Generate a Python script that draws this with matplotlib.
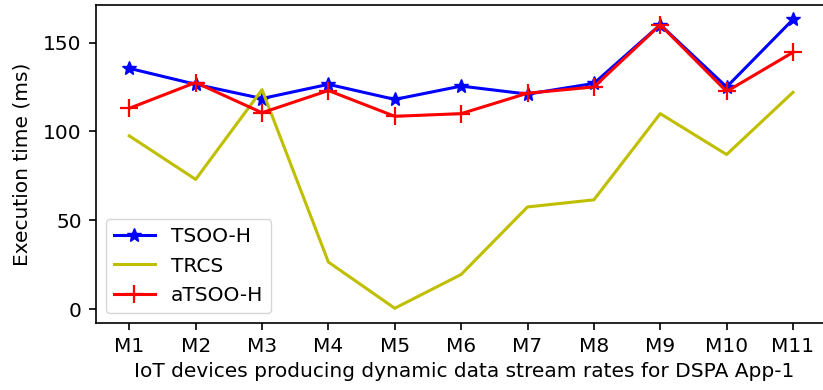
import matplotlib
matplotlib.use("Agg")
import matplotlib.pyplot as plt

# Devices and measured execution times (ms)
devices = ["M1", "M2", "M3", "M4", "M5", "M6", "M7", "M8", "M9", "M10", "M11"]
tsoo_h = [135.5, 126.5, 118.5, 126.5, 118, 125.5, 121, 127, 160, 125, 163]
trcs = [97.5, 73, 123.5, 26.5, 0.5, 19.5, 57.5, 61.5, 110, 87, 122]
atsoo_h = [113, 127.5, 110.5, 123, 108.5, 110, 121.5, 125, 160, 122.5, 144.5]
yticks = [0, 50, 100, 150]

plt.rcParams["font.family"] = ["DejaVu Sans"]
plt.rcParams["font.size"] = 14.5
plt.rcParams["axes.linewidth"] = 1.2
for a in ("xtick", "ytick"):
    plt.rcParams[f"{a}.major.size"] = 5.2
    plt.rcParams[f"{a}.major.width"] = 1.2
    plt.rcParams[f"{a}.major.pad"] = 5.2

W, H = 823, 390
left, right = 96.1, 832.8
fig = plt.figure(figsize=(W / 100, H / 100), dpi=100)
ax = fig.add_axes([left / W, (H - 322.7) / H, (right - left) / W, 317.7 / H])

x = range(len(devices))
ax.plot(x, tsoo_h, color="b", lw=2.2, marker="*", markersize=10, label="TSOO-H")
ax.plot(x, trcs, color="y", lw=2.2, label="TRCS")
ax.plot(x, atsoo_h, color="r", lw=2.2, marker="+", markersize=13,
        markeredgewidth=1.6, label="aTSOO-H")

ax.set_xlim(-0.5, len(devices) - 0.4)
ax.set_xticks(list(x))
ax.set_xticklabels(devices)
ax.set_yticks(yticks)
ax.set_xlabel("IoT devices producing dynamic data stream rates for DSPA App-1",
              labelpad=4)
ax.set_ylabel("Execution time (ms)", labelpad=8)
ax.legend(loc="lower left")

fig.savefig("out.png", dpi=100)
